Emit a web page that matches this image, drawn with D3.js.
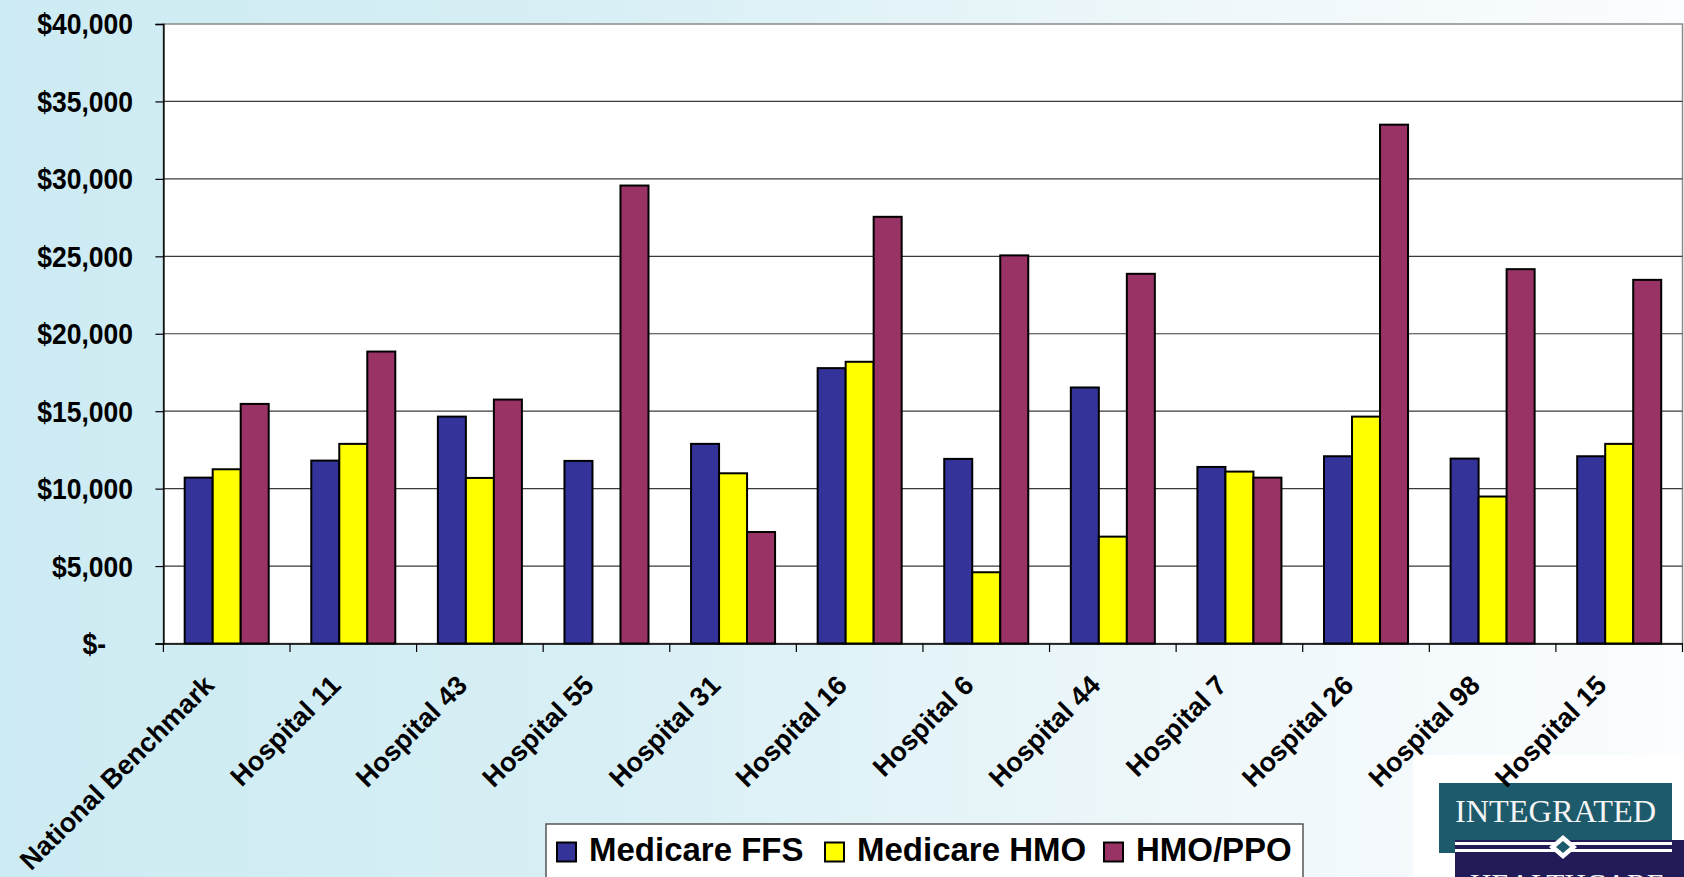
<!DOCTYPE html>
<html><head><meta charset="utf-8">
<script src="https://cdn.jsdelivr.net/npm/d3@7"></script>
<style>html,body{margin:0;padding:0;overflow:hidden;}svg{display:block;}</style>
</head><body>
<svg id="c" width="1684" height="877"></svg>
<script>
const categories = ["National Benchmark","Hospital 11","Hospital 43","Hospital 55","Hospital 31","Hospital 16","Hospital 6","Hospital 44","Hospital 7","Hospital 26","Hospital 98","Hospital 15"];
const seriesNames = ["Medicare FFS","Medicare HMO","HMO/PPO"];
const medicareFFS = [10710,11810,14650,11790,12890,17780,11920,16530,11400,12090,11940,12090];
const medicareHMO = [11250,12890,10690,0,10990,18190,4600,6900,11100,14650,9490,12890];
const hmoPPO      = [15470,18850,15750,29570,7200,27550,25060,23870,10710,33500,24170,23480];
const yTicks = [0,5000,10000,15000,20000,25000,30000,35000,40000];
const colors = ["#333399","#FFFF00","#993366"];

const svg = d3.select("#c");
const W = 1684, H = 877;
const L = 163.4, R = 1682.5, T = 24, B = 643.5;

// background gradient
const defs = svg.append("defs");
const g = defs.append("linearGradient").attr("id","bg").attr("x1","0").attr("x2","1").attr("y1","0").attr("y2","0");
g.append("stop").attr("offset","0").attr("stop-color","#cdebf3");
g.append("stop").attr("offset","0.35").attr("stop-color","#d7eff5");
g.append("stop").attr("offset","0.7").attr("stop-color","#eef7fa");
g.append("stop").attr("offset","1").attr("stop-color","#fbfdfe");
svg.append("rect").attr("width",W).attr("height",H).attr("fill","url(#bg)");

const x0 = d3.scaleBand().domain(categories).range([L,R]).paddingInner(0).paddingOuter(0);
const x1 = d3.scaleBand().domain(seriesNames).range([0,x0.bandwidth()]).paddingInner(0).paddingOuter(0.76);
const y = d3.scaleLinear().domain([0,40000]).range([B,T]);

// plot area
svg.append("rect").attr("x",L).attr("y",T).attr("width",R-L).attr("height",B-T).attr("fill","#fff").attr("stroke","#8a8a8a").attr("stroke-width",1.5);

// grid lines
svg.append("g").selectAll("line").data(yTicks.filter(v=>v>0 && v<40000)).join("line")
  .attr("x1",L).attr("x2",R).attr("y1",d=>y(d)).attr("y2",d=>y(d))
  .attr("stroke","#3a3a3a").attr("stroke-width",1.2);

// logo (behind labels)
const logo = svg.append("g");
logo.append("rect").attr("x",1413).attr("y",755).attr("width",W-1413).attr("height",H-755).attr("fill","#ffffff");
logo.append("rect").attr("x",1439).attr("y",783).attr("width",233).attr("height",70).attr("fill","#1d5a6c");
logo.append("rect").attr("x",1455).attr("y",840).attr("width",W-1455).attr("height",H-840).attr("fill","#211c57");
logo.append("rect").attr("x",1455).attr("y",842).attr("width",217).attr("height",3).attr("fill","#fff");
logo.append("rect").attr("x",1455).attr("y",849).attr("width",217).attr("height",3).attr("fill","#fff");
logo.append("polygon").attr("points","1563,835 1577,847 1563,859 1549,847").attr("fill","#fff");
logo.append("polygon").attr("points","1563,841 1570,847 1563,853 1556,847").attr("fill","#1d5a6c");
logo.append("text").attr("x",1455).attr("y",822).attr("font-family","'Liberation Serif', serif").attr("font-size",32)
  .attr("fill","#f4f4f4").attr("textLength",201).attr("lengthAdjust","spacingAndGlyphs").text("INTEGRATED");
logo.append("text").attr("x",1470).attr("y",894).attr("font-family","'Liberation Serif', serif").attr("font-size",30)
  .attr("fill","#f4f4f4").attr("textLength",195).attr("lengthAdjust","spacingAndGlyphs").text("HEALTHCARE");

// bars
const data = categories.map((c,i)=>({cat:c, vals:[medicareFFS[i],medicareHMO[i],hmoPPO[i]]}));
const groups = svg.append("g").selectAll("g").data(data).join("g").attr("transform",d=>`translate(${x0(d.cat)},0)`);
groups.selectAll("rect").data(d=>d.vals.map((v,k)=>({v, s:seriesNames[k], k})).filter(e=>e.v>0)).join("rect")
  .attr("x",e=>x1(e.s)).attr("width",x1.bandwidth())
  .attr("y",e=>y(e.v)).attr("height",e=>B-y(e.v))
  .attr("fill",e=>colors[e.k]).attr("stroke","#000").attr("stroke-width",2);

// y axis
const yAxis = svg.append("g").attr("transform",`translate(${L},0)`)
  .call(d3.axisLeft(y).tickValues(yTicks).tickSize(8).tickFormat(""));
yAxis.select(".domain").attr("stroke","#000").attr("stroke-width",1.5);
yAxis.selectAll(".tick line").attr("stroke","#000").attr("stroke-width",1.2);
const fmt = v => v===0 ? "$-" : "$" + d3.format(",")(v);
svg.append("g").selectAll("text").data(yTicks).join("text")
  .attr("transform",d=>`translate(${d===0?106:133},${y(d)}) scale(1,1.1)`)
  .attr("text-anchor","end").attr("dy","0.36em")
  .attr("font-family","'Liberation Sans', Arial, sans-serif").attr("font-weight","bold").attr("font-size",26.5)
  .attr("fill","#000").text(fmt);

// x axis
const xAxis = svg.append("g").attr("transform",`translate(0,${B})`)
  .call(d3.axisBottom(x0).tickSize(0).tickFormat(""));
xAxis.select(".domain").attr("stroke","#000").attr("stroke-width",1.5);
const bounds = categories.map(c=>x0(c)).concat([R]);
svg.append("g").selectAll("line").data(bounds).join("line")
  .attr("x1",d=>d).attr("x2",d=>d).attr("y1",B).attr("y2",B+8.5).attr("stroke","#000").attr("stroke-width",1.2);

svg.append("g").selectAll("text").data(categories).join("text")
  .attr("transform",d=>`translate(${x0(d)+x0.bandwidth()/2-11},687) rotate(-45)`)
  .attr("text-anchor","end")
  .attr("font-family","'Liberation Sans', Arial, sans-serif").attr("font-weight","bold").attr("font-size",27)
  .attr("fill","#000").text(d=>d);

// legend
const lg = svg.append("g");
lg.append("rect").attr("x",546).attr("y",824).attr("width",757).attr("height",80).attr("fill","#fff").attr("stroke","#555").attr("stroke-width",1.5);
const legX = [557, 825, 1104];
seriesNames.forEach((s,k)=>{
  lg.append("rect").attr("x",legX[k]).attr("y",842.5).attr("width",19).attr("height",19)
    .attr("fill",colors[k]).attr("stroke","#000").attr("stroke-width",2);
  lg.append("text").attr("transform",`translate(${legX[k]+32},860.5) scale(1,0.98)`)
    .attr("font-family","'Liberation Sans', Arial, sans-serif").attr("font-weight","bold").attr("font-size",33)
    .attr("fill","#000").text(s);
});
</script>
</body></html>
